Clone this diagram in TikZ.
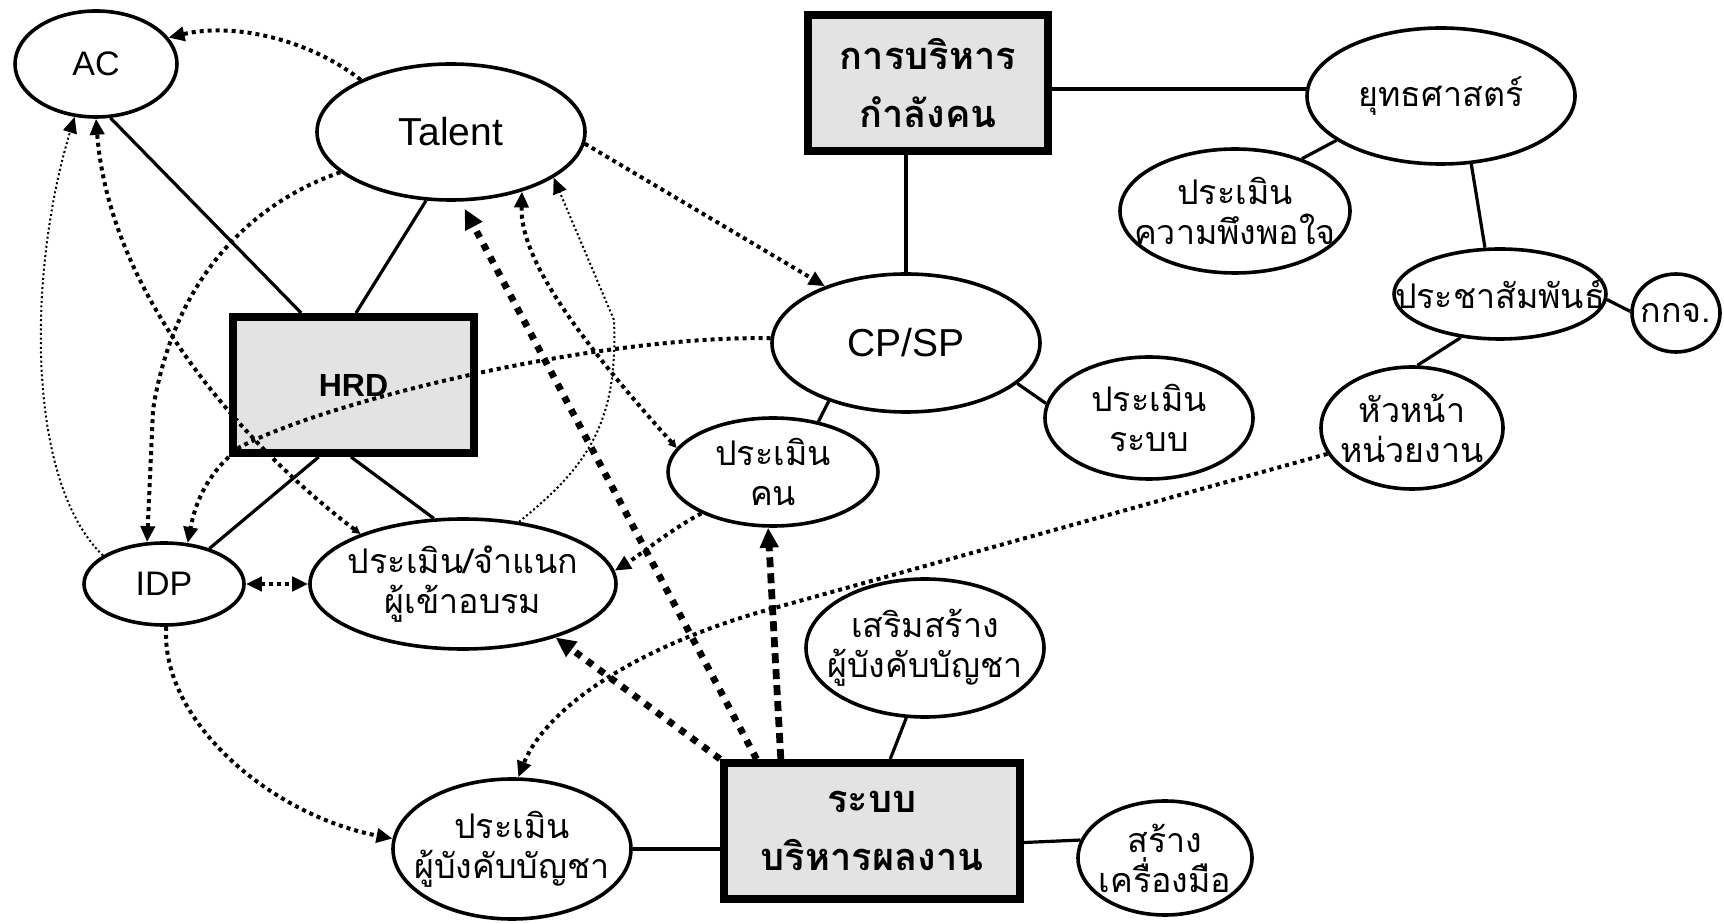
\documentclass[tikz,border=0pt]{standalone}
\usepackage{fontspec}
\setmainfont{Liberation Sans}
\newfontfamily\thai[Script=Thai]{Loma}
\usetikzlibrary{shapes.geometric,arrows.meta,calc}

\tikzset{
  bub/.style 2 args={draw, ellipse, line width=1.8pt, fill=white, inner sep=0pt,
    minimum width=#1pt, minimum height=#2pt},
  hub/.style 2 args={draw, rectangle, line width=4pt, fill=gray!22, inner sep=0pt,
    minimum width=#1pt, minimum height=#2pt, align=center},
  lat/.style={font=\fontsize{19.5}{23}\selectfont},
  latsm/.style={font=\fontsize{17}{20}\selectfont},
  th/.style={font=\thai\fontsize{17}{20}\selectfont, align=center, inner sep=0pt},
  thb/.style={font=\thai\bfseries\fontsize{19}{29}\selectfont},
  link/.style={line width=1.6pt},
  dotlink/.style={line width=2pt, dash pattern=on 2pt off 2pt},
  hairdot/.style={line width=1pt, dash pattern=on 1pt off 1.3pt},
  bigdot/.style={line width=3.4pt, dash pattern=on 3.4pt off 3.8pt},
  bigdash/.style={line width=3.4pt, dash pattern=on 5pt off 3pt},
  tip/.style={-{Triangle[length=8pt,width=7pt]}},
  bigtip/.style={-{Triangle[length=10pt,width=9pt]}},
  twotip/.style={{Triangle[length=4pt,width=4pt]}-{Triangle[length=8pt,width=7pt]}},
}

\begin{document}
\begin{tikzpicture}[x=0.5pt,y=-0.5pt]
\useasboundingbox (0,0) rectangle (1724,924);

% ---- nodes ----
\node[bub={81}{53}, latsm] (ac) at (96,64) {AC};
\node[bub={134}{68}, lat] (talent) at (451,132) {Talent};
\node[hub={120}{68}, thb] (mgmt) at (928,83) {การบริหาร\\กำลังคน};
\node[bub={134}{68}, label={[th]center:ยุทธศาสตร์}] (ys) at (1441,96) {};
\node[bub={115}{62}, label={[th]center:ประเมิน\\ความพึงพอใจ}] (kp) at (1235,211) {};
\node[bub={106}{45}, label={[th]center:ประชาสัมพันธ์}] (pr) at (1500,294) {};
\node[bub={44}{39}, label={[th]center:กกจ.}] (kk) at (1676,313) {};
\node[bub={91}{61}, label={[th]center:หัวหน้า\\หน่วยงาน}] (hn) at (1412,428) {};
\node[bub={134}{69}, lat] (cp) at (906,343) {CP/SP};
\node[bub={104}{61}, label={[th]center:ประเมิน\\ระบบ}] (ps) at (1149,418) {};
\node[bub={105}{54}, label={[th]center:ประเมิน\\คน}] (pk) at (773,472) {};
\node[hub={120.5}{68}, font=\bfseries\fontsize{16}{19}\selectfont] (hrd) at (353.5,385) {HRD};
\node[bub={80}{41}, latsm] (idp) at (164,584) {IDP};
\node[bub={153}{65}, label={[th]center:ประเมิน/จำแนก\\ผู้เข้าอบรม}] (pj) at (463,584) {};
\node[bub={119}{69}, label={[th]center:เสริมสร้าง\\ผู้บังคับบัญชา}] (ss) at (925,648) {};
\node[hub={148}{68}, thb] (rb) at (872,831) {ระบบ\\บริหารผลงาน};
\node[bub={119}{70}, label={[th]center:ประเมิน\\ผู้บังคับบัญชา}] (pb) at (512,849) {};
\node[bub={87}{57}, label={[th]center:สร้าง\\เครื่องมือ}] (sk) at (1165,858) {};

% ---- solid links ----
\draw[link] (ac.-75) -- ($(hrd.north west)!.29!(hrd.north east)$);
\draw[link] (talent.-110) -- ($(hrd.north west)!.51!(hrd.north east)$);
\draw[link] ($(hrd.south west)!.36!(hrd.south east)$) -- (idp.38);
\draw[link] ($(hrd.south west)!.49!(hrd.south east)$) -- (pj.114);
\draw[link] (cp.north) -- (cp.north |- mgmt.south);
\draw[link] (ys.177) -- (ys.177 -| mgmt.east);
\draw[link] (ys.-157) -- (kp.38);
\draw[link] (ys.-66) -- (pr.108);
\draw[link] (pr.-3) -- (kk.178);
\draw[link] (pr.-132) -- (hn.85);
\draw[link] (cp.-20) -- (ps.172);
\draw[link] (cp.-143) -- (pk.48);
\draw[link] (ss.-105) -- ($(rb.north west)!.56!(rb.north east)$);
\draw[link] (pb.east) -- (pb.east -| rb.west);
\draw[link] ($(rb.north east)!.58!(rb.south east)$) -- (sk.168);

% ---- dotted links ----
\draw[dotlink, tip] (talent.150) .. controls (310,40) and (235,22) .. (ac.20);
\draw[dotlink, twotip] (pj.154) .. controls (250,450) and (110,300) .. (ac.-90);
\draw[dotlink, tip] (talent.-160) .. controls (260,200) and (175,270) .. (153,410) -- (idp.112);
\draw[hairdot, tip] (idp.155) .. controls (25,480) and (28,270) .. (ac.-112);
\draw[dotlink, tip] (cp.178) .. controls (600,335) and (330,400) .. (240,447)
  .. controls (205,475) and (195,505) .. (idp.60);
\draw[dotlink, tip] (talent.-5) -- (cp.145);
\draw[dotlink, twotip] (pk.166) .. controls (580,340) and (520,260) .. (talent.-40);
\draw[hairdot, tip] (pj.48) .. controls (590,465) and (618,420) .. (614,320) -- (talent.-24);
\draw[dotlink, tip] (pk.-150) .. controls (670,530) and (640,555) .. (pj.5);
\draw[dotlink, tip] (hn.-163) -- (760,612) .. controls (630,650) and (545,710) .. (pb.85);
\draw[dotlink, tip] (idp.-87) .. controls (160,720) and (270,815) .. (pb.175);
\draw[dotlink, {Triangle[length=8pt,width=7pt]}-{Triangle[length=8pt,width=7pt]}]
  (idp.east) -- (pj.west);

% ---- heavy links from the performance system ----
\draw[bigdot, bigtip, shorten >=4pt] ($(rb.north west)!.12!(rb.north east)$) -- (talent.-82);
\draw[bigdash, bigtip] ($(rb.north west)!.2!(rb.north east)$) -- (pk.-95);
\draw[bigdot, bigtip] (rb.north west) -- (pj.-30);
\end{tikzpicture}
\end{document}
